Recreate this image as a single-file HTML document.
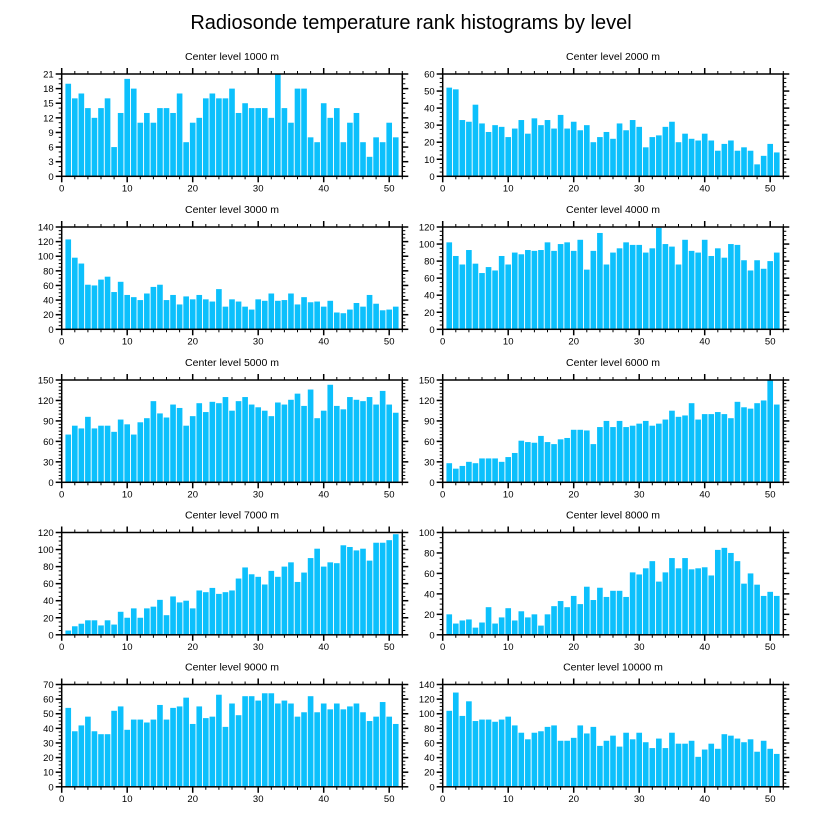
<!DOCTYPE html>
<html><head><meta charset="utf-8">
<style>
html,body{margin:0;padding:0;background:#fff;}
svg{display:block;font-family:"Liberation Sans",sans-serif;}
</style></head>
<body>
<svg id="chart" width="822" height="824" viewBox="0 0 822 824" xmlns="http://www.w3.org/2000/svg">
<rect width="822" height="824" fill="#fff"/>
<text x="411" y="29" text-anchor="middle" font-size="20" fill="#000">Radiosonde temperature rank histograms by level</text>
</svg>
<script>
const levels = ["1000","2000","3000","4000","5000","6000","7000","8000","9000","10000"];
const yMax = [21,60,140,120,150,150,120,100,70,140];
const yStep = [3,10,20,20,30,30,20,20,10,20];
const v1000 = [19,16,17,14,12,14,16,6,13,20,18,11,13,11,14,14,13,17,7,11,12,16,17,16,16,18,13,15,14,14,14,12,21,14,11,18,18,8,7,15,12,14,7,11,13,7,4,8,7,11,8];
const v2000 = [52,51,33,32,42,31,26,30,29,23,28,33,25,34,30,33,28,36,28,32,27,30,20,23,26,22,31,27,33,29,17,23,24,29,32,20,25,22,21,25,21,15,19,21,15,17,15,7,12,19,14];
const v3000 = [123,98,90,61,60,68,72,51,65,47,44,40,49,58,61,40,47,34,45,41,47,41,38,55,31,41,38,31,27,41,39,49,39,40,49,34,44,37,38,31,39,23,22,27,36,31,47,35,26,27,31];
const v4000 = [102,86,76,93,77,66,73,69,86,76,90,88,93,92,93,102,92,100,102,92,105,70,92,113,76,90,95,102,99,99,90,95,119,100,97,76,105,92,90,105,86,95,84,100,99,81,69,81,71,80,90];
const v5000 = [70,83,79,96,79,83,83,74,92,85,70,88,94,119,101,95,114,109,83,97,116,103,118,116,125,105,119,125,114,110,105,97,117,114,121,130,112,136,94,105,143,112,107,125,121,119,125,114,134,114,102];
const v6000 = [28,20,24,30,28,35,35,35,30,37,43,61,59,58,68,59,56,63,65,77,77,76,56,81,90,81,90,81,83,86,90,83,86,92,105,96,98,116,92,100,100,103,100,94,118,110,108,116,120,150,114];
const v7000 = [5,10,13,17,17,11,17,12,27,20,31,20,31,33,41,23,45,38,40,31,52,50,55,48,50,52,66,79,71,68,59,75,68,80,85,62,73,90,101,80,85,84,105,103,99,101,87,108,108,111,118];
const v8000 = [20,11,14,15,7,12,27,11,17,26,14,23,17,20,9,20,28,33,27,38,30,47,34,46,37,43,43,37,61,59,65,72,52,61,75,65,75,64,65,66,58,83,85,80,72,50,60,49,38,42,38];
const v9000 = [54,38,42,48,38,36,36,52,55,39,46,46,44,46,56,46,54,55,61,43,55,47,48,63,41,57,49,62,62,59,64,64,57,59,57,48,51,62,51,57,53,57,53,55,57,51,45,48,58,48,43];
const v10000 = [104,129,97,117,90,92,92,89,92,96,84,74,65,74,76,82,84,63,63,67,84,73,82,56,63,70,55,74,65,74,61,53,66,53,74,59,59,63,41,51,59,52,72,70,66,61,65,48,63,52,45];
const series = [v1000,v2000,v3000,v4000,v5000,v6000,v7000,v8000,v9000,v10000];
const xTicks = [0,10,20,30,40,50];

const NS = "http://www.w3.org/2000/svg";
const svg = document.getElementById("chart");
function mk(tag, attrs, parent){ const e=document.createElementNS(NS,tag); for(const k in attrs) e.setAttribute(k,attrs[k]); (parent||svg).appendChild(e); return e; }

const colLeft=[61.7,442.7], W=340.6, rowTop=[74,227,380,532.5,684.5], H=102.3, XMAX=52;

series.forEach((vals,i)=>{
  const L=colLeft[i%2], T=rowTop[Math.floor(i/2)], B=T+H, R=L+W;
  const g=mk("g",{});
  
  
  const xs=v=>L+v/XMAX*W;
  const ys=v=>B-v/yMax[i]*H;
  const t=mk("text",{x:(L+R)/2,y:T-14,"text-anchor":"middle","font-size":"10.5",fill:"#000"},g);
  t.textContent="Center level "+levels[i]+" m";
  
  
  const bw=W/XMAX*0.86;
  vals.forEach((v,j)=>{
    const y=ys(v);
    const r=mk("rect",{x:xs(j+1)-bw/2,y:y,width:bw,height:B-y,fill:"#0CC0FC"},g);
    
    
  });
  // frame
  const f=mk("rect",{x:L,y:T,width:W,height:H,fill:"none",stroke:"#000","stroke-width":"1.5"},g);
  
  
  // x ticks
  for(let v=0;v<=XMAX;v+=2){
    const x=xs(v), major=(v%10===0), len=major?6:3;
    mk("line",{x1:x,x2:x,y1:B,y2:B+len,stroke:"#000","stroke-width":major?1.5:1},g);
    mk("line",{x1:x,x2:x,y1:T,y2:T-len,stroke:"#000","stroke-width":major?1.5:1},g);
  }
  xTicks.forEach(v=>{
    const tl=mk("text",{x:xs(v),y:B+15,"text-anchor":"middle","font-size":"9.5",fill:"#000"},g);
    tl.textContent=v;
    
    
  });
  // y ticks
  const minor=yStep[i]/ (yStep[i]===3?3:(yStep[i]===30?6:4));
  for(let v=0;v<=yMax[i]+1e-6;v+=minor){
    const y=ys(v), major=Math.abs(v/yStep[i]-Math.round(v/yStep[i]))<1e-6, len=major?6:3;
    mk("line",{x1:L,x2:L-len,y1:y,y2:y,stroke:"#000","stroke-width":major?1.5:1},g);
    mk("line",{x1:R,x2:R+len,y1:y,y2:y,stroke:"#000","stroke-width":major?1.5:1},g);
  }
  for(let v=0;v<=yMax[i]+1e-6;v+=yStep[i]){
    const tl=mk("text",{x:L-8,y:ys(v)+3.5,"text-anchor":"end","font-size":"9.5",fill:"#000"},g);
    tl.textContent=v;
    
    
  }
});
</script>
</body></html>
